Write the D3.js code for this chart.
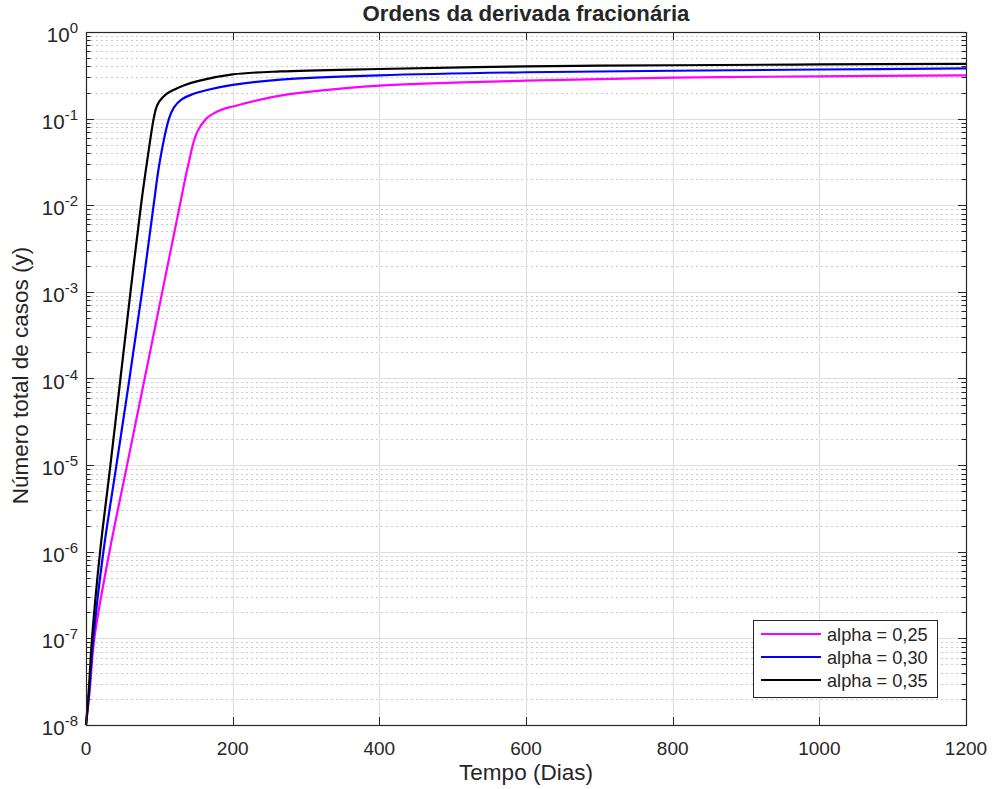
<!DOCTYPE html>
<html lang="pt">

<head>
    <meta charset="UTF-8">
    <title>Ordens da derivada fracionária</title>
    <script src="https://d3js.org/d3.v7.min.js"></script>
    <style>
        body { margin: 0; background: #fff; }
        text { font-family: "Liberation Sans", Arial, Helvetica, sans-serif; fill: #262626; }
    </style>
</head>

<body>
    <div id="chart"></div>
    <script>
        // values (tempo em dias, numero total de casos)
        const tAlpha25 = [0, 4.8, 11.4, 32, 56, 80, 104, 128, 139, 151, 164, 175, 187, 200, 265, 400, 600, 800, 1000, 1200];
        const yAlpha25 = [1e-8, 2.4e-8, 1e-7, 1e-6, 1e-5, 1e-4, 1e-3, 1e-2, 0.0282, 0.0684, 0.1, 0.1161, 0.1288, 0.138, 0.184, 0.240, 0.274, 0.297, 0.308, 0.316];

        const tAlpha30 = [0, 4.3, 10, 23.7, 41.5, 59.3, 76.4, 92.2, 100.5, 113.2, 120, 130, 145, 165, 200, 265, 400, 600, 800, 1000, 1200];
        const yAlpha30 = [1e-8, 2.4e-8, 1e-7, 1e-6, 1e-5, 1e-4, 1e-3, 1e-2, 0.0316, 0.1, 0.135, 0.166, 0.191, 0.214, 0.245, 0.282, 0.316, 0.343, 0.357, 0.369, 0.380];

        const tAlpha35 = [0, 3.6, 8.2, 19.2, 33.3, 47, 60.7, 75, 83.2, 92.3, 96, 100, 109, 120, 135, 155, 200, 265, 400, 600, 800, 1000, 1200];
        const yAlpha35 = [1e-8, 2.4e-8, 1e-7, 1e-6, 1e-5, 1e-4, 1e-3, 1e-2, 0.0316, 0.1, 0.135, 0.158, 0.191, 0.216, 0.245, 0.275, 0.324, 0.351, 0.374, 0.401, 0.413, 0.422, 0.428];

        const seriesNames = ['alpha = 0,25', 'alpha = 0,30', 'alpha = 0,35'];
        const seriesColors = ['#ff00ff', '#0000ff', '#000000'];
        const xTicks = [0, 200, 400, 600, 800, 1000, 1200];
        const yExponents = [-8, -7, -6, -5, -4, -3, -2, -1, 0];

        const width = 992, height = 789;
        const plotLeft = 86, plotRight = 966, plotTop = 32, plotBottom = 725;

        const svg = d3.select('#chart')
            .append('svg')
            .attr('width', width)
            .attr('height', height);

        const x = d3.scaleLinear().domain([0, 1200]).range([plotLeft, plotRight]);
        const y = d3.scaleLog().domain([1e-8, 1]).range([plotBottom, plotTop]);

        // minor grid (2..9 of every decade), dotted
        const minorVals = [];
        for (let k = -8; k < 0; k++) {
            for (let m = 2; m <= 9; m++) minorVals.push(m * Math.pow(10, k));
        }
        svg.append('g')
            .selectAll('line')
            .data(minorVals)
            .enter()
            .append('line')
            .attr('x1', plotLeft)
            .attr('x2', plotRight)
            .attr('y1', d => Math.round(y(d)) + 0.5)
            .attr('y2', d => Math.round(y(d)) + 0.5)
            .attr('stroke', '#cacaca')
            .attr('stroke-width', 1)
            .attr('stroke-dasharray', '2,3');

        // major grid
        svg.append('g')
            .selectAll('line')
            .data(yExponents)
            .enter()
            .append('line')
            .attr('x1', plotLeft)
            .attr('x2', plotRight)
            .attr('y1', d => Math.round(y(Math.pow(10, d))) + 0.5)
            .attr('y2', d => Math.round(y(Math.pow(10, d))) + 0.5)
            .attr('stroke', '#dedede');
        svg.append('g')
            .selectAll('line')
            .data(xTicks)
            .enter()
            .append('line')
            .attr('x1', d => Math.round(x(d)) + 0.5)
            .attr('x2', d => Math.round(x(d)) + 0.5)
            .attr('y1', plotTop)
            .attr('y2', plotBottom)
            .attr('stroke', '#dedede');

        // curves
        const line = d3.line()
            .x(d => x(d[0]))
            .y(d => y(d[1]))
            .curve(d3.curveCatmullRom.alpha(0.5));
        const allT = [tAlpha25, tAlpha30, tAlpha35];
        const allY = [yAlpha25, yAlpha30, yAlpha35];
        allT.forEach((ts, i) => {
            svg.append('path')
                .datum(ts.map((t, j) => [t, allY[i][j]]))
                .attr('d', line)
                .attr('fill', 'none')
                .attr('stroke', seriesColors[i])
                .attr('stroke-width', 2.2)
                .attr('stroke-linejoin', 'round');
        });

        // box + ticks
        const axisColor = '#262626';
        svg.append('rect')
            .attr('x', plotLeft + 0.5)
            .attr('y', plotTop + 0.5)
            .attr('width', plotRight - plotLeft)
            .attr('height', plotBottom - plotTop)
            .attr('fill', 'none')
            .attr('stroke', axisColor)
            .attr('stroke-width', 1.2);

        const ticks = svg.append('g').attr('stroke', axisColor).attr('stroke-width', 1);
        yExponents.forEach(e => {
            const yy = Math.round(y(Math.pow(10, e))) + 0.5;
            ticks.append('line').attr('x1', plotLeft).attr('x2', plotLeft + 8).attr('y1', yy).attr('y2', yy);
            ticks.append('line').attr('x1', plotRight).attr('x2', plotRight - 8).attr('y1', yy).attr('y2', yy);
        });
        minorVals.forEach(v => {
            const yy = Math.round(y(v)) + 0.5;
            ticks.append('line').attr('x1', plotLeft).attr('x2', plotLeft + 4.5).attr('y1', yy).attr('y2', yy);
            ticks.append('line').attr('x1', plotRight).attr('x2', plotRight - 4.5).attr('y1', yy).attr('y2', yy);
        });
        xTicks.forEach(t => {
            const xx = Math.round(x(t)) + 0.5;
            ticks.append('line').attr('x1', xx).attr('x2', xx).attr('y1', plotBottom).attr('y2', plotBottom - 8);
            ticks.append('line').attr('x1', xx).attr('x2', xx).attr('y1', plotTop).attr('y2', plotTop + 8);
        });

        // tick labels
        svg.append('g')
            .selectAll('text')
            .data(xTicks)
            .enter()
            .append('text')
            .attr('x', d => x(d))
            .attr('y', 755)
            .attr('text-anchor', 'middle')
            .attr('font-size', '19px')
            .text(d => d);

        const yLabels = svg.append('g')
            .selectAll('text')
            .data(yExponents)
            .enter()
            .append('text')
            .attr('x', 78)
            .attr('y', d => y(Math.pow(10, d)) + 10)
            .attr('text-anchor', 'end')
            .attr('font-size', '20.5px')
            .text('10');
        yLabels.append('tspan')
            .attr('dy', -9)
            .attr('font-size', '15px')
            .text(d => d);

        // title and axis labels
        svg.append('text')
            .attr('x', (plotLeft + plotRight) / 2)
            .attr('y', 21)
            .attr('text-anchor', 'middle')
            .attr('font-size', '22.2px')
            .attr('font-weight', 'bold')
            .attr('fill', '#000')
            .text('Ordens da derivada fracionária');

        svg.append('text')
            .attr('x', (plotLeft + plotRight) / 2)
            .attr('y', 780)
            .attr('text-anchor', 'middle')
            .attr('font-size', '22.5px')
            .text('Tempo (Dias)');

        svg.append('text')
            .attr('transform', 'translate(28,' + ((plotTop + plotBottom) / 2 - 3) + ') rotate(-90)')
            .attr('text-anchor', 'middle')
            .attr('font-size', '22.5px')
            .text('Número total de casos (y)');

        // legend
        const legend = svg.append('g').attr('transform', 'translate(753,620)');
        legend.append('rect')
            .attr('x', 0.5)
            .attr('y', 0.5)
            .attr('width', 184)
            .attr('height', 77)
            .attr('fill', '#fff')
            .attr('stroke', axisColor)
            .attr('stroke-width', 1);
        seriesNames.forEach((name, i) => {
            const ly = 14 + i * 23;
            legend.append('line')
                .attr('x1', 8)
                .attr('x2', 68)
                .attr('y1', ly)
                .attr('y2', ly)
                .attr('stroke', seriesColors[i])
                .attr('stroke-width', 2.2);
            legend.append('text')
                .attr('x', 74)
                .attr('y', ly + 6.5)
                .attr('font-size', '18.2px')
                .text(name);
        });
    </script>
</body>

</html>
